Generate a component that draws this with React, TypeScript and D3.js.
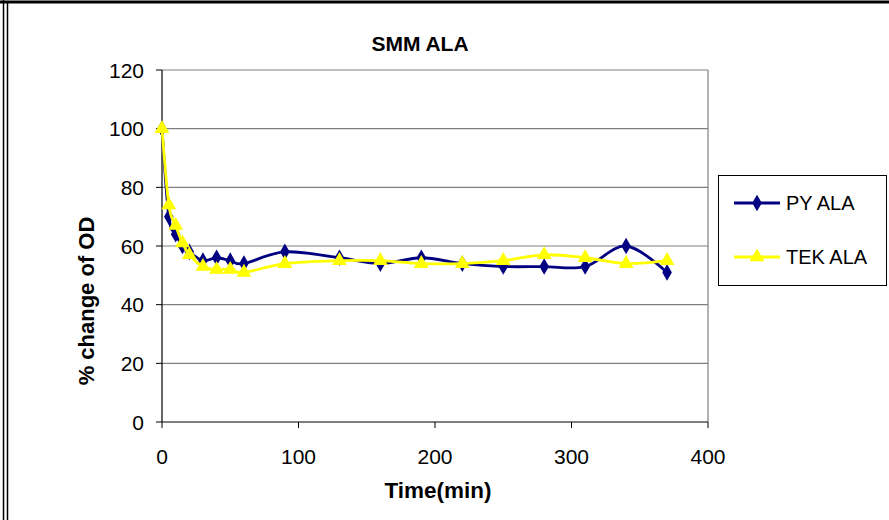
import React from "react";
import * as d3 from "d3";

const times = [0, 5, 10, 15, 20, 30, 40, 50, 60, 90, 130, 160, 190, 220, 250, 280, 310, 340, 370];
const pyAla = [100, 70, 64, 60, 58, 55, 56, 55, 54, 58, 56, 54, 56, 54, 53, 53, 53, 60, 51];
const tekAla = [100, 74, 67, 61, 57, 53, 52, 52, 51, 54, 55, 55, 54, 54, 55, 57, 56, 54, 55];
const yTicks = [0, 20, 40, 60, 80, 100, 120];
const xTicks = [0, 100, 200, 300, 400];
const seriesNames = ["PY ALA", "TEK ALA"];

const W = 889;
const H = 520;
const left = 162, right = 708, top = 70, bottom = 422;
const font = "'Liberation Sans', Arial, sans-serif";

export default function App() {
  const x = d3.scaleLinear().domain([0, 400]).range([left, right]);
  const y = d3.scaleLinear().domain([0, 120]).range([bottom, top]);
  const line = d3
    .line<number>()
    .x((_, i) => x(times[i]))
    .y((d) => y(d))
    .curve(d3.curveCatmullRom.alpha(0));
  const diamond = d3.symbol().type(d3.symbolDiamond).size(80)() as string;
  const triangle = d3.symbol().type(d3.symbolTriangle).size(95)() as string;
  const navy = "#000080";
  const yellow = "#FFFF00";

  return (
    <svg
      width={W}
      height={H}
      style={{ position: "absolute", left: 0, top: 0, background: "#fff" }}
      fontFamily={font}
    >
      <rect x={0} y={0} width={W} height={H} fill="#fff" />
      {/* frame */}
      <line x1={0} y1={2} x2={W} y2={2} stroke="#000" strokeWidth={3} />
      <line x1={3.5} y1={0} x2={3.5} y2={H} stroke="#000" strokeWidth={1.5} />
      <line x1={7.5} y1={3} x2={7.5} y2={H} stroke="#000" strokeWidth={1.5} />

      {/* title */}
      <text x={420} y={51} textAnchor="middle" fontSize={21} fontWeight="bold">
        SMM ALA
      </text>

      {/* gridlines */}
      {yTicks.filter((t) => t > 0).map((t) => (
        <line key={t} x1={left} x2={right} y1={y(t)} y2={y(t)} stroke="#808080" strokeWidth={1.2} />
      ))}
      <line x1={right} x2={right} y1={top} y2={bottom} stroke="#808080" strokeWidth={1.2} />

      {/* axes */}
      <line x1={left} x2={left} y1={top} y2={bottom} stroke="#000" strokeWidth={1.2} />
      <line x1={left} x2={right} y1={bottom} y2={bottom} stroke="#000" strokeWidth={1.2} />
      {yTicks.map((t) => (
        <g key={t}>
          <line x1={left - 6} x2={left} y1={y(t)} y2={y(t)} stroke="#000" />
          <text x={144} y={y(t) + 7.5} textAnchor="end" fontSize={21}>
            {t}
          </text>
        </g>
      ))}
      {xTicks.map((t) => (
        <g key={t}>
          <line x1={x(t)} x2={x(t)} y1={bottom} y2={bottom + 6} stroke="#000" />
          <text x={x(t)} y={464} textAnchor="middle" fontSize={21}>
            {t}
          </text>
        </g>
      ))}

      {/* axis titles */}
      <text x={438} y={498} textAnchor="middle" fontSize={22.5} fontWeight="bold">
        Time(min)
      </text>
      <text
        transform={`translate(94,301) rotate(-90)`}
        textAnchor="middle"
        fontSize={22}
        fontWeight="bold"
      >
        % change of OD
      </text>

      {/* series */}
      <path d={line(pyAla) ?? ""} fill="none" stroke={navy} strokeWidth={2.8} />
      {pyAla.map((v, i) => (
        <path key={i} d={diamond} transform={`translate(${x(times[i])},${y(v)})`} fill={navy} />
      ))}
      <path d={line(tekAla) ?? ""} fill="none" stroke={yellow} strokeWidth={2.8} />
      {tekAla.map((v, i) => (
        <path key={i} d={triangle} transform={`translate(${x(times[i])},${y(v)})`} fill={yellow} />
      ))}

      {/* legend */}
      <rect x={718.5} y={175.5} width={168} height={110} fill="#fff" stroke="#000" strokeWidth={1} />
      {seriesNames.map((name, i) => {
        const ly = i === 0 ? 203 : 257;
        return (
          <g key={name}>
            <line x1={734} x2={780} y1={ly} y2={ly} stroke={i === 0 ? navy : yellow} strokeWidth={2.8} />
            <path
              d={i === 0 ? diamond : triangle}
              transform={`translate(757,${ly})`}
              fill={i === 0 ? navy : yellow}
            />
            <text x={786} y={ly + 7} fontSize={20}>
              {name}
            </text>
          </g>
        );
      })}
    </svg>
  );
}
